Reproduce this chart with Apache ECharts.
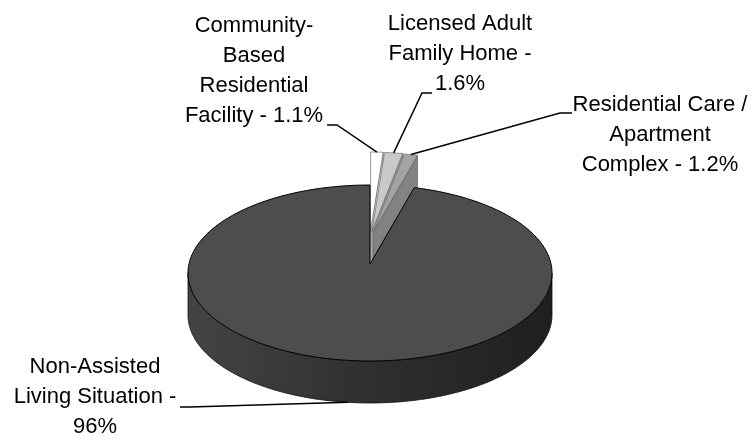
<!DOCTYPE html>
<html>
<head>
<meta charset="utf-8">
<script src="https://cdn.jsdelivr.net/npm/echarts@6/dist/echarts.min.js"></script>
<style>
  html, body { margin: 0; padding: 0; background: #ffffff; }
  #chart { width: 753px; height: 444px; }
</style>
</head>
<body>
<div id="chart"></div>
<script>
// Living situation shares (%), clockwise from 12 o'clock
const categories = [
  'Community-Based Residential Facility',
  'Licensed Adult Family Home',
  'Residential Care / Apartment Complex',
  'Non-Assisted Living Situation'
];
// Wrapped label text; the value is appended after it
const labelNames = [
  'Community-\nBased\nResidential\nFacility - ',
  'Licensed Adult\nFamily Home -\n',
  'Residential Care /\nApartment\nComplex - ',
  'Non-Assisted\nLiving Situation -\n'
];
const values = [1.1, 1.6, 1.2, 96];
const exploded = [true, true, true, false];

// Slice styling
const topColors = ['#ffffff', '#c9c9c9', '#a3a3a3', '#4d4d4d'];
const wallColors = ['#dedede', '#a9a9a9', '#828282', '#2e2e2e'];

// Label placement: text block centre, leader start, leader elbow
const labelCenter = [[254, 71], [460, 54], [660, 135], [95, 397]];
const leaderStart = [[327, 125], [432, 93], [572, 113], [180, 407]];
const leaderElbow = [[337, 125], [422, 93], [560, 113], [190, 407]];

// Projected disc geometry of the 3D pie
const geo = {
  cx: 370, cy: 273,      // rim ellipse centre
  ax: 370, ay: 264,      // apex (pie centre seen in perspective)
  rx: 182, ry: 88,
  depth: 42,
  explode: 33
};

const total = values.reduce((a, b) => a + b, 0);
const starts = [];
values.reduce((acc, v, i) => { starts[i] = acc; return acc + v; }, 0);

const rad = d => d * Math.PI / 180;
function rim(deg, s, h) {
  return [geo.cx + geo.rx * Math.sin(rad(deg)) + s[0],
          geo.cy - geo.ry * Math.cos(rad(deg)) + s[1] + h];
}
function apex(s, h) { return [geo.ax + s[0], geo.ay + s[1] + h]; }
function arc(a0, a1, s, h) {
  const pts = [];
  const n = Math.max(2, Math.ceil(Math.abs(a1 - a0)));
  for (let k = 0; k <= n; k++) pts.push(rim(a0 + (a1 - a0) * k / n, s, h));
  return pts;
}

function fmt(v) { return (Math.round(v * 10) / 10) + '%'; }

function renderItem(params, api) {
  const i = params.dataIndex;
  const v = api.value(0);
  const a0 = starts[i] / total * 360;
  const a1 = (starts[i] + v) / total * 360;
  const mid = (a0 + a1) / 2;
  const s = exploded[i]
    ? [geo.explode * 0.5 * Math.sin(rad(mid)) * 1.0, -geo.explode * Math.cos(rad(mid))]
    : [0, 0];
  const children = [];

  if (exploded[i]) {
    // visible radial wall on the clockwise edge
    children.push({
      type: 'polygon',
      shape: { points: [apex(s, 0), rim(a1, s, 0), rim(a1, s, geo.depth), apex(s, geo.depth)] },
      style: { fill: wallColors[i], stroke: '#5a5a5a', lineWidth: 0.6 }
    });
  } else {
    // front curved side of the disc
    const f0 = Math.max(a0, 90), f1 = Math.min(a1, 270);
    if (f1 > f0) {
      const pts = arc(f0, f1, s, 0).concat(arc(f1, f0, s, geo.depth));
      children.push({
        type: 'polygon',
        shape: { points: pts },
        style: {
          fill: new echarts.graphic.LinearGradient(0, 0, 1, 0, [
            { offset: 0, color: '#444444' },
            { offset: 0.5, color: '#2f2f2f' },
            { offset: 1, color: '#1f1f1f' }
          ]),
          stroke: '#111111', lineWidth: 0.8
        }
      });
    }
  }
  // top face
  children.push({
    type: 'polygon',
    shape: { points: [apex(s, 0)].concat(arc(a0, a1, s, 0)) },
    style: { fill: topColors[i], stroke: exploded[i] ? '#5a5a5a' : '#000000', lineWidth: exploded[i] ? 0.6 : 1 }
  });

  // leader line and label
  const tip = exploded[i] ? rim(mid, s, 0) : rim(mid, s, geo.depth);
  children.push({
    type: 'polyline',
    z2: 10,
    shape: { points: [leaderStart[i], leaderElbow[i], tip] },
    style: { stroke: '#000000', lineWidth: 1.5, fill: null }
  });
  children.push({
    type: 'text',
    z2: 10,
    style: {
      text: labelNames[i] + fmt(v),
      x: labelCenter[i][0], y: labelCenter[i][1],
      align: 'center', verticalAlign: 'middle',
      font: '22px "Liberation Sans", Arial, sans-serif',
      lineHeight: 30,
      fill: '#000000'
    }
  });
  return { type: 'group', children: children };
}

const chart = echarts.init(document.getElementById('chart'), null, { renderer: 'canvas' });
chart.setOption({
  backgroundColor: '#ffffff',
  animation: false,
  series: [{
    type: 'custom',
    coordinateSystem: 'none',
    renderItem: renderItem,
    data: values.map((v, i) => ({ name: categories[i], value: [v] }))
  }]
});
</script>
</body>
</html>
